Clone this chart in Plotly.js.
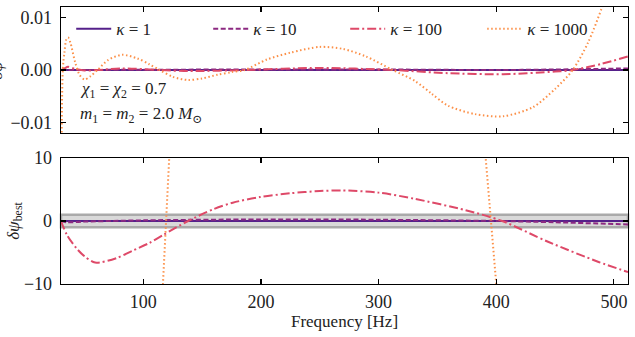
<!DOCTYPE html>
<html>
<head>
<meta charset="utf-8">
<script src="https://cdn.plot.ly/plotly-3.0.1.min.js"></script>
<style>
  html, body { margin: 0; padding: 0; background: #fff; }
  #chart { width: 635px; height: 337px; }
</style>
</head>
<body>
<div id="chart"></div>
<script>
// ---- data ----
const LABELS = ['<i>κ</i> = 1', '<i>κ</i> = 10', '<i>κ</i> = 100', '<i>κ</i> = 1000'];
const COLORS = ['#55208a', '#8c2981', '#de4968', '#fc9048'];
const DASHES = ['solid', '5px,2.5px', '9px,3px,2px,3px', '1.5px,2.5px'];

// top panel: phase difference
const F_TOP_K1    = [30, 512];
const TOP_K1      = [0, 0];
const F_TOP_K10   = [30, 100, 200, 300, 400, 450, 512];
const TOP_K10     = [0, 0.00005, 0.0001, 0.0001, 0, 0.0001, 0.0003];
const F_TOP_K100  = [30, 33, 36, 42, 50, 61, 82, 114, 138, 186, 250, 312, 359, 406, 450, 465, 490, 512];
const TOP_K100    = [0, 0.0003, 0.0006, 0.0002, -0.0001, 0, 0.0003, 0, -0.0002, 0, 0.0004, 0, -0.0006, -0.0008, -0.0003, 0, 0.0012, 0.0026];
const F_TOP_K1000 = [30, 31.5, 33, 34.5, 36, 38, 42, 46, 50, 55, 61, 70, 82, 95, 105, 114, 125, 138, 150, 163, 175, 186,
                     205, 225, 250, 270, 289, 312, 331, 345, 359, 382, 406, 431, 450, 465, 478, 490, 500, 512];
const TOP_K1000   = [-0.05, 0, 0.0035, 0.0058, 0.0062, 0.0052, 0.0015, -0.001, -0.0018, -0.0012, 0, 0.0019, 0.0029, 0.0022, 0.0011, 0,
                     -0.0013, -0.0019, -0.0016, -0.0009, -0.0004, 0, 0.002, 0.0033, 0.0044, 0.0040, 0.0026, 0, -0.0021, -0.0045,
                     -0.0068, -0.0084, -0.0088, -0.0071, -0.0036, 0, 0.0052, 0.012, 0.019, 0.03];

// bottom panel: best-fit phase difference
const F_BOT_K1    = [30, 512];
const BOT_K1      = [0, 0];
const F_BOT_K10   = [30, 35, 50, 100, 200, 300, 400, 450, 512];
const BOT_K10     = [0, -0.2, -0.1, 0.1, 0.25, 0.2, 0, -0.2, -0.55];
const F_BOT_K100  = [30, 35, 43, 50, 59, 77, 91, 105, 117, 138, 160, 176, 199, 225, 250, 269, 300, 331, 374, 405, 444, 487, 512];
const BOT_K100    = [0, -2.2, -4.3, -5.6, -6.6, -5.9, -4.7, -3.5, -2.2, 0, 1.9, 2.9, 3.8, 4.4, 4.75, 4.85, 4.5, 3.5, 1.7, 0, -3.3, -6.5, -8.1];
const F_BOT_K1000 = [30, 60, 90, 110, 117, 122, 135, 180, 260, 340, 380, 391, 400, 420, 470, 512];
const BOT_K1000   = [-150, -120, -70, -35, -10, 10, 45, 150, 220, 140, 45, 10, -10, -70, -230, -400];

const BAND = 1;   // shaded +/- band in the lower panel
const FREQ_RANGE = [30, 512];

const FONT = 'Liberation Serif, DejaVu Serif, serif';

function lineTrace(x, y, i, axes, show, smooth) {
  return {
    x: x, y: y, type: 'scatter', mode: 'lines',
    name: LABELS[i], legendgroup: 'k' + i, showlegend: show,
    xaxis: axes[0], yaxis: axes[1],
    line: { color: COLORS[i], width: 2, dash: DASHES[i], shape: smooth ? 'spline' : 'linear', smoothing: 0.8 },
    hoverinfo: 'skip'
  };
}

const traces = [
  lineTrace(F_TOP_K1,    TOP_K1,    0, ['x2', 'y2'], true,  false),
  lineTrace(F_TOP_K10,   TOP_K10,   1, ['x2', 'y2'], true,  true),
  lineTrace(F_TOP_K100,  TOP_K100,  2, ['x2', 'y2'], true,  true),
  lineTrace(F_TOP_K1000, TOP_K1000, 3, ['x2', 'y2'], true,  true),
  lineTrace(F_BOT_K1,    BOT_K1,    0, ['x', 'y'],   false, false),
  lineTrace(F_BOT_K10,   BOT_K10,   1, ['x', 'y'],   false, true),
  lineTrace(F_BOT_K100,  BOT_K100,  2, ['x', 'y'],   false, true),
  lineTrace(F_BOT_K1000, BOT_K1000, 3, ['x', 'y'],   false, false)
];

const axisCommon = {
  showgrid: false, zeroline: false,
  showline: true, linecolor: '#000', linewidth: 1.3, mirror: 'ticks',
  ticks: 'inside', ticklen: 5, tickwidth: 1.2, tickcolor: '#000',
  tickfont: { family: FONT, size: 18, color: '#222' }
};

const titleFont = { family: FONT, size: 17, color: '#222' };

const layout = {
  width: 635, height: 337,
  margin: { l: 61, r: 7, t: 7, b: 53 },
  paper_bgcolor: '#fff', plot_bgcolor: '#fff',
  font: { family: FONT, color: '#222' },
  showlegend: true,
  legend: {
    orientation: 'h', x: 0.018, y: 0.985, xanchor: 'left', yanchor: 'top',
    bgcolor: 'rgba(0,0,0,0)', font: { family: FONT, size: 17, color: '#222' },
    entrywidth: 87, itemwidth: 35
  },
  xaxis: Object.assign({}, axisCommon, {
    anchor: 'y', domain: [0, 1], range: FREQ_RANGE,
    tickvals: [100, 200, 300, 400, 500], ticklabelstandoff: 1,
    title: { text: 'Frequency [Hz]', font: titleFont, standoff: 2 }
  }),
  yaxis: Object.assign({}, axisCommon, {
    anchor: 'x', domain: [0, 0.455], range: [-10, 10],
    tickvals: [-10, 0, 10], ticklabelstandoff: 4,
    title: { text: '<i>δψ</i><sub>best</sub>', font: titleFont, standoff: 0 }
  }),
  xaxis2: Object.assign({}, axisCommon, {
    anchor: 'y2', domain: [0, 1], range: FREQ_RANGE, matches: 'x',
    tickvals: [100, 200, 300, 400, 500], showticklabels: false
  }),
  yaxis2: Object.assign({}, axisCommon, {
    anchor: 'x2', domain: [0.545, 1], range: [-0.012, 0.012],
    tickvals: [-0.01, 0, 0.01], tickformat: '.2f', ticklabelstandoff: 4
  }),
  shapes: [
    { type: 'rect', xref: 'x domain', yref: 'y', x0: 0, x1: 1, y0: -BAND, y1: BAND,
      fillcolor: '#d9d9d9', line: { color: '#aaaaaa', width: 2.5 }, layer: 'below' }
  ],
  annotations: [
    // top-panel y title sits mostly beyond the left edge, as in the original
    { xref: 'paper', yref: 'y2 domain', x: -0.115, y: 0.5, xanchor: 'center', yanchor: 'middle', showarrow: false,
      textangle: -90, text: '<i>δψ</i>', font: titleFont },
    { xref: 'x2 domain', yref: 'y2', x: 0.03, y: -0.0038, xanchor: 'left', yanchor: 'middle', showarrow: false,
      text: '<i>χ</i><sub>1</sub> = <i>χ</i><sub>2</sub> = 0.7', font: titleFont },
    { xref: 'x2 domain', yref: 'y2', x: 0.03, y: -0.0085, xanchor: 'left', yanchor: 'middle', showarrow: false,
      text: '<i>m</i><sub>1</sub> = <i>m</i><sub>2</sub> = 2.0 <i>M</i><sub>⊙</sub>', font: titleFont }
  ]
};

Plotly.newPlot('chart', traces, layout, { displayModeBar: false, staticPlot: true });
</script>
</body>
</html>
